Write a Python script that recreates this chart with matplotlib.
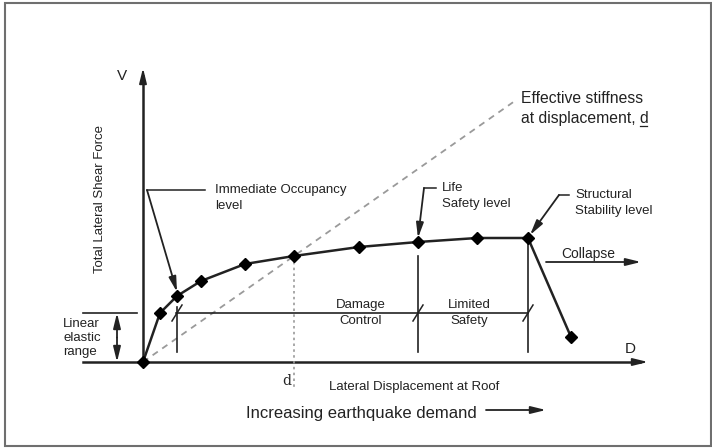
import numpy as np
import matplotlib.pyplot as plt
from matplotlib.patches import Rectangle

plt.rcParams['font.family'] = ['Liberation Sans', 'DejaVu Sans']

# --- data: pushover curve (displacement, base shear), arbitrary units ---
disp  = [0, 17, 34, 58, 102, 151, 216, 275, 334, 385, 428]
shear = [0, 49, 66, 81,  98, 106, 115, 120, 124, 124,  25]

IO, DSPL, LS, SS = 2, 5, 7, 9          # indices of marked levels
elastic_limit = shear[1]               # linear elastic range top
d_max, d_min = 505, -60                # axis extents
v_max = 294

region_labels = ["Damage\nControl", "Limited\nSafety"]
region_centres = [218, 326]

INK = '#222222'
GREY = '#9a9a9a'

fig = plt.figure(figsize=(7.12, 4.48), dpi=100)
ax = fig.add_axes([0, 0, 1, 1])
ax.set_xlim(-143, 569)
ax.set_ylim(-86, 362)
ax.axis('off')

# frame around the picture
fig.patches.append(Rectangle((5 / 712, 2 / 448), 706 / 712, 443 / 448,
                             transform=fig.transFigure, fill=False,
                             ec='#6f6f6f', lw=1.5))

arrow = dict(arrowstyle='-|>,head_length=0.9,head_width=0.22',
             color=INK, lw=1.3, shrinkA=0, shrinkB=0)

# axes with arrows
ax.plot([d_min, d_max - 8], [0, 0], color=INK, lw=1.8)
ax.annotate('', xy=(d_max, 0), xytext=(d_max - 10, 0), arrowprops=arrow)
ax.plot([0, 0], [0, v_max - 8], color=INK, lw=1.8)
ax.annotate('', xy=(0, v_max), xytext=(0, v_max - 10), arrowprops=arrow)
ax.text(-21, 286, 'V', fontsize=11, color=INK, ha='center', va='center')
ax.text(487, 13, 'D', fontsize=11, color=INK, ha='center', va='center')
ax.text(-43, 163, 'Total Lateral Shear Force', rotation=90, fontsize=9.5,
        color=INK, ha='center', va='center')
ax.text(271, -25, 'Lateral Displacement at Roof', fontsize=9.5, color=INK,
        ha='center', va='center')

# effective stiffness secant
k = shear[DSPL] / disp[DSPL]
ax.plot([0, 370], [0, 370 * k], color=GREY, lw=1.3, ls=(0, (3.5, 3)))
ax.text(378, 264, 'Effective stiffness', fontsize=11.3, color=INK, va='center')
ax.text(378, 244, 'at displacement, d', fontsize=11.3, color=INK, va='center')
ax.plot([497, 504], [236, 236], color=INK, lw=0.9)

# dotted line down to d
ax.plot([disp[DSPL]] * 2, [shear[DSPL], -25], color=GREY, lw=1.2, ls=(0, (1.5, 2)))
ax.text(disp[DSPL] - 7, -19, 'd', fontsize=10, family='DejaVu Serif',
        color=INK, ha='center', va='center')

# linear elastic range bracket
ax.plot([d_min, -6], [elastic_limit] * 2, color=INK, lw=1.2)
ax.annotate('', xy=(-26, elastic_limit), xytext=(-26, elastic_limit / 2), arrowprops=arrow)
ax.annotate('', xy=(-26, 0), xytext=(-26, elastic_limit / 2), arrowprops=arrow)
ax.text(-80, 24, 'Linear\nelastic\nrange', fontsize=9.5, color=INK,
        ha='left', va='center', linespacing=1.2)

# performance range line with verticals and slashes
ax.plot([disp[IO] - 1, disp[SS]], [elastic_limit] * 2, color=INK, lw=1.2)
for i, top in [(IO, elastic_limit + 6), (LS, shear[LS] - 14), (SS, shear[SS])]:
    ax.plot([disp[i]] * 2, [top, 10], color=INK, lw=1.2)
    ax.plot([disp[i] - 5, disp[i] + 5], [elastic_limit - 8, elastic_limit + 8],
            color=INK, lw=1.1)
for lab, xc in zip(region_labels, region_centres):
    ax.text(xc, elastic_limit, lab, fontsize=9.5, color=INK, ha='center',
            va='center', linespacing=1.35)

# capacity curve
ax.plot(disp, shear, color=INK, lw=1.8, marker='D', markersize=6,
        markerfacecolor='black', markeredgecolor='black', zorder=4)

# level call-outs
ax.plot([62, 4], [172, 172], color=INK, lw=1.1)
ax.annotate('', xy=(disp[IO], shear[IO] + 4), xytext=(4, 172), arrowprops=arrow)
ax.text(72, 164, 'Immediate Occupancy\nlevel', fontsize=9.5, color=INK,
        va='center', linespacing=1.35)

ax.plot([293, 281], [174, 174], color=INK, lw=1.1)
ax.annotate('', xy=(disp[LS], shear[LS] + 4), xytext=(281, 174), arrowprops=arrow)
ax.text(299, 166, 'Life\nSafety level', fontsize=9.5, color=INK,
        va='center', linespacing=1.35)

ax.plot([426, 416], [167, 167], color=INK, lw=1.1)
ax.annotate('', xy=(disp[SS] + 2, shear[SS] + 3), xytext=(416, 167), arrowprops=arrow)
ax.text(432, 159, 'Structural\nStability level', fontsize=9.5, color=INK,
        va='center', linespacing=1.35)

# collapse arrow
ax.text(445, 108, 'Collapse', fontsize=10, color=INK, ha='center', va='center')
ax.annotate('', xy=(498, 100), xytext=(403, 100), arrowprops=arrow)

# demand arrow
ax.text(218, -51, 'Increasing earthquake demand', fontsize=12, color=INK,
        ha='center', va='center')
ax.annotate('', xy=(403, -48), xytext=(343, -48), arrowprops=arrow)

fig.savefig('out.png', dpi=100)
